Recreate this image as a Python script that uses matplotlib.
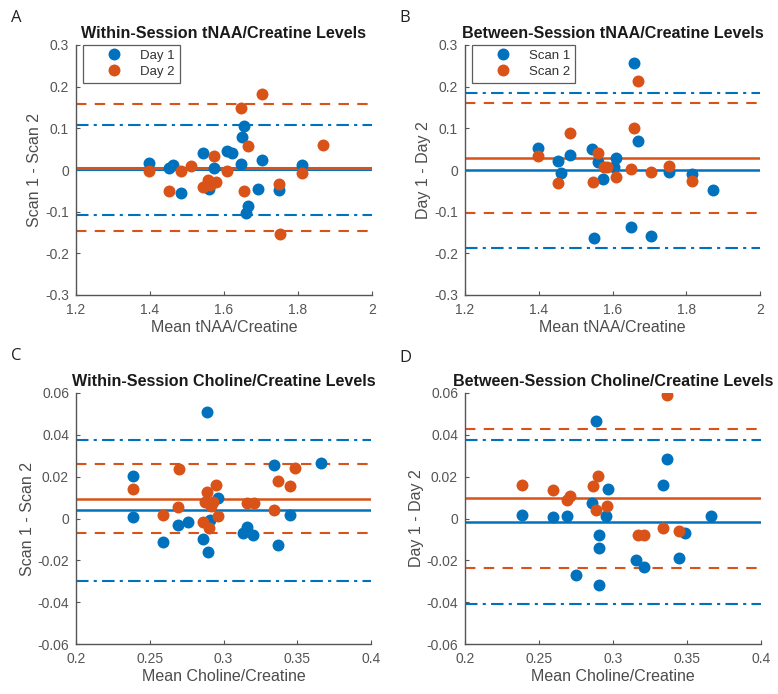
import numpy as np
import matplotlib
matplotlib.use("Agg")
import matplotlib.pyplot as plt

plt.rcParams['font.family'] = ['Liberation Sans', 'DejaVu Sans']

BLUE = '#0072BD'
ORANGE = '#D95319'
GREY = '#4d4d4d'

# ---- A: within-session tNAA/Cr ----
a_day1_x = [1.396, 1.450, 1.461, 1.483, 1.544, 1.560, 1.572, 1.608, 1.621, 1.646,
            1.648, 1.655, 1.666, 1.660, 1.693, 1.702, 1.749, 1.812]
a_day1_y = [0.016, 0.004, 0.011, -0.056, 0.042, -0.046, 0.004, 0.046, 0.042, 0.014,
            0.080, 0.106, -0.086, -0.102, -0.046, 0.024, -0.048, 0.012]
a_day2_x = [1.396, 1.452, 1.483, 1.511, 1.544, 1.558, 1.572, 1.579, 1.608, 1.646,
            1.655, 1.666, 1.702, 1.749, 1.752, 1.812, 1.867, 1.562]
a_day2_y = [-0.002, -0.050, -0.002, 0.010, -0.040, -0.024, 0.034, -0.028, -0.002, 0.150,
            -0.050, 0.058, 0.182, -0.034, -0.154, -0.006, 0.060, -0.036]
a_mean = (0.0017, 0.0055)
a_loa1 = (-0.108, 0.108)
a_loa2 = (-0.146, 0.158)

# ---- B: between-session tNAA/Cr ----
b_scan1_x = [1.657, 1.668, 1.397, 1.451, 1.460, 1.485, 1.544, 1.560, 1.573, 1.605,
             1.610, 1.752, 1.815, 1.872, 1.551, 1.649, 1.705]
b_scan1_y = [0.256, 0.070, 0.054, 0.022, -0.008, 0.036, 0.050, 0.020, -0.022, 0.008,
             0.030, -0.004, -0.010, -0.048, -0.162, -0.136, -0.158]
b_scan2_x = [1.668, 1.657, 1.485, 1.397, 1.451, 1.562, 1.547, 1.576, 1.585, 1.610,
             1.651, 1.705, 1.752, 1.815]
b_scan2_y = [0.214, 0.100, 0.088, 0.034, -0.030, 0.042, -0.029, 0.008, 0.008, -0.016,
             0.002, -0.004, 0.010, -0.026]
b_mean = (0.0, 0.028)
b_loa1 = (-0.186, 0.186)
b_loa2 = (-0.104, 0.160)

# ---- C: within-session Cho/Cr ----
c_day1_x = [0.2886, 0.2384, 0.2384, 0.2592, 0.2689, 0.2761, 0.2863, 0.2897, 0.2908,
            0.2965, 0.3134, 0.3157, 0.3202, 0.3341, 0.3451, 0.3367, 0.3659]
c_day1_y = [0.0507, 0.0201, 0.0007, -0.0110, -0.0030, -0.0017, -0.0099, -0.0158, -0.0006,
            0.0098, -0.0067, -0.0043, -0.0081, 0.0254, 0.0018, -0.0129, 0.0265]
c_day2_x = [0.2384, 0.2592, 0.2689, 0.2700, 0.2863, 0.2901, 0.2890, 0.2875, 0.2949,
            0.2930, 0.2965, 0.2912, 0.3161, 0.3207, 0.3341, 0.3368, 0.3450, 0.3484]
c_day2_y = [0.0142, 0.0018, 0.0053, 0.0238, -0.0017, -0.0046, 0.0125, 0.0081, 0.0161,
            0.0081, 0.0010, 0.0060, 0.0074, 0.0074, 0.0042, 0.0180, 0.0153, 0.0241]
c_mean = (0.0042, 0.0094)
c_loa1 = (-0.0300, 0.0377)
c_loa2 = (-0.0070, 0.0260)

# ---- D: between-session Cho/Cr ----
d_scan1_x = [0.2883, 0.3368, 0.3338, 0.2966, 0.2384, 0.2594, 0.2691, 0.2858, 0.2951,
             0.2905, 0.2903, 0.2751, 0.2903, 0.3158, 0.3208, 0.3447, 0.3485, 0.3659]
d_scan1_y = [0.0468, 0.0284, 0.0158, 0.0142, 0.0018, 0.0005, 0.0010, 0.0074, 0.0010,
             -0.0081, -0.0142, -0.0270, -0.0317, -0.0198, -0.0230, -0.0190, -0.0070, 0.0013]
d_scan2_x = [0.3368, 0.2384, 0.2594, 0.2689, 0.2707, 0.2865, 0.2899, 0.2883, 0.2962,
             0.3169, 0.3210, 0.3338, 0.3447]
d_scan2_y = [0.0592, 0.0158, 0.0134, 0.0090, 0.0109, 0.0153, 0.0201, 0.0042, 0.0061,
             -0.0081, -0.0081, -0.0046, -0.0059]
d_mean = (-0.0017, 0.0096)
d_loa1 = (-0.0410, 0.0373)
d_loa2 = (-0.0238, 0.0428)

W, H = 778, 694
fig = plt.figure(figsize=(W / 100, H / 100), dpi=100)


def make_axes(left, top, right, bottom):
    return fig.add_axes([left / W, 1 - bottom / H, (right - left) / W, (bottom - top) / H])


def panel(ax, x1, y1, x2, y2, mean, loa1, loa2, title, xlabel, ylabel,
          xlim, xticks, ylim, yticks, names, mean_lw):
    ax.plot(x1, y1, 'o', color=BLUE, ms=8.6, mec='none', label=names[0], zorder=3)
    ax.plot(x2, y2, 'o', color=ORANGE, ms=8.6, mec='none', label=names[1], zorder=3)
    ax.axhline(mean[0], color=BLUE, lw=mean_lw, zorder=2)
    ax.axhline(mean[1], color=ORANGE, lw=mean_lw, zorder=2)
    for v in loa1:
        ax.axhline(v, color=BLUE, lw=1.5, ls=(0, (6, 2.5, 1.5, 2.5)), zorder=2)
    for v in loa2:
        ax.axhline(v, color=ORANGE, lw=1.5, ls=(0, (5, 4)), zorder=2)
    ax.set_xlim(xlim)
    ax.set_ylim(ylim)
    ax.set_xticks(xticks)
    ax.set_yticks(yticks)
    ax.set_xticklabels([f'{t:g}' for t in xticks])
    ax.set_yticklabels([f'{t:g}' for t in yticks])
    for s in ('top', 'right'):
        ax.spines[s].set_visible(False)
    for s in ('left', 'bottom'):
        ax.spines[s].set_color('#555555')
        ax.spines[s].set_linewidth(1.0)
    ax.tick_params(direction='in', length=3, color='#555555', labelcolor='#555555',
                   labelsize=10)
    ax.tick_params(axis='x', pad=6)
    ax.tick_params(axis='y', pad=5)
    ax.set_title(title, fontsize=11.6, fontweight='bold', color='#1a1a1a', pad=5)
    ax.set_xlabel(xlabel, fontsize=11.5, color=GREY, labelpad=2)
    ax.set_ylabel(ylabel, fontsize=11.5, color=GREY, labelpad=2)


axA = make_axes(76, 45, 372, 295)
axB = make_axes(465, 45, 760, 295)
axC = make_axes(76, 393, 371, 644)
axD = make_axes(465, 393, 761, 644)

naa_x = [1.2, 1.4, 1.6, 1.8, 2.0]
naa_y = [-0.3, -0.2, -0.1, 0, 0.1, 0.2, 0.3]
cho_x = [0.2, 0.25, 0.3, 0.35, 0.4]
cho_y = [-0.06, -0.04, -0.02, 0, 0.02, 0.04, 0.06]

panel(axA, a_day1_x, a_day1_y, a_day2_x, a_day2_y, a_mean, a_loa1, a_loa2,
      'Within-Session tNAA/Creatine Levels', 'Mean tNAA/Creatine', 'Scan 1 - Scan 2',
      (1.2, 2.0), naa_x, (-0.3, 0.3), naa_y, ('Day 1', 'Day 2'), 2.2)
panel(axB, b_scan1_x, b_scan1_y, b_scan2_x, b_scan2_y, b_mean, b_loa1, b_loa2,
      'Between-Session tNAA/Creatine Levels', 'Mean tNAA/Creatine', 'Day 1 - Day 2',
      (1.2, 2.0), naa_x, (-0.3, 0.3), naa_y, ('Scan 1', 'Scan 2'), 1.8)
panel(axC, c_day1_x, c_day1_y, c_day2_x, c_day2_y, c_mean, c_loa1, c_loa2,
      'Within-Session Choline/Creatine Levels', 'Mean Choline/Creatine', 'Scan 1 - Scan 2',
      (0.2, 0.4), cho_x, (-0.06, 0.06), cho_y, ('Day 1', 'Day 2'), 1.8)
panel(axD, d_scan1_x, d_scan1_y, d_scan2_x, d_scan2_y, d_mean, d_loa1, d_loa2,
      'Between-Session Choline/Creatine Levels', 'Mean Choline/Creatine', 'Day 1 - Day 2',
      (0.2, 0.4), cho_x, (-0.06, 0.06), cho_y, ('Scan 1', 'Scan 2'), 1.8)

for ax in (axA, axB):
    leg = ax.legend(loc='upper left', bbox_to_anchor=(7 / 296, 1.0), frameon=True,
                    fancybox=False, edgecolor='#333333', fontsize=9.5,
                    handletextpad=0.0, borderpad=0.35, labelspacing=0.3,
                    handlelength=4.0, borderaxespad=0)
    leg.get_frame().set_linewidth(0.9)
    for t in leg.get_texts():
        t.set_color('#333333')

for lab, (x, y) in zip('ABCD', [(11, 22), (399, 22), (11, 360), (399, 362)]):
    fig.text(x / W, 1 - y / H, lab, fontsize=12, family='Open Sans', color='#222222')

fig.savefig('out.png', dpi=100)
